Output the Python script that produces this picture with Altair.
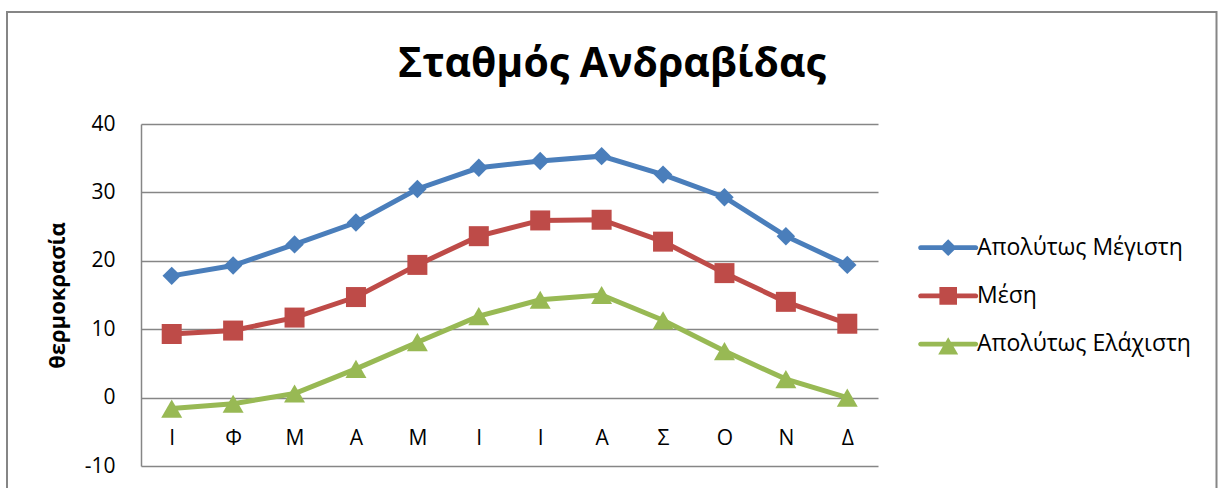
import json

import altair as alt
import pandas as pd

# Monthly temperatures at Andravida station (°C)
months = ["Ι", "Φ", "Μ", "Α", "Μ", "Ι", "Ι", "Α", "Σ", "Ο", "Ν", "Δ"]
series_names = ["Απολύτως Μέγιστη", "Μέση", "Απολύτως Ελάχιστη"]
abs_max = [17.8, 19.3, 22.4, 25.6, 30.5, 33.6, 34.6, 35.3, 32.6, 29.3, 23.6, 19.4]
mean_t = [9.3, 9.8, 11.7, 14.7, 19.4, 23.6, 25.9, 26.0, 22.8, 18.2, 14.0, 10.8]
abs_min = [-1.6, -0.9, 0.6, 4.2, 8.1, 11.9, 14.3, 15.0, 11.3, 6.8, 2.7, 0.0]
y_ticks = [-10, 0, 10, 20, 30, 40]

colors = ["#4A7EBB", "#BE4B48", "#98B954"]
markers = ["diamond", "square", "triangle-up"]
marker_sizes = [340, 400, 440]

# legend symbols: a rounded line segment with the series marker on it
bar = "M-3.45,-0.3H3.45A0.3,0.3 0 0 1 3.45,0.3H-3.45A0.3,0.3 0 0 1 -3.45,-0.3Z"
legend_paths = [
    bar + "M-1.05,0L0,-1.05L1.05,0L0,1.05Z",
    bar + "M-1.1,-1.1H1.1V1.1H-1.1Z",
    bar + "M-1.25,1.3L0,-0.85L1.25,1.3Z",
]

rows = []
for name, vals in zip(series_names, [abs_max, mean_t, abs_min]):
    for i, v in enumerate(vals):
        rows.append({"idx": i, "month": months[i], "series": name, "value": v})
df = pd.DataFrame(rows)

FONT = "Open Sans"
GRID = "#868686"

x_enc = alt.X(
    "idx:O",
    scale=alt.Scale(type="point", padding=0.5),
    axis=alt.Axis(
        title=None,
        labelExpr=json.dumps(months, ensure_ascii=False) + "[datum.value]",
        labelAngle=0,
        labelFont=FONT,
        labelFontSize=21,
        labelColor="black",
        labelPadding=30,
        domain=False,
        ticks=False,
        tickSize=0,
        grid=False,
        offset=-68.4,
    ),
)
y_enc = alt.Y(
    "value:Q",
    scale=alt.Scale(domain=[-10, 40], nice=False, zero=False),
    axis=alt.Axis(
        values=y_ticks,
        labelExpr="datum.value < 0 ? '-' + abs(datum.value) : '' + datum.value",
        title="θερμοκρασία",
        titleFont=FONT,
        titleFontSize=22,
        titleFontWeight="bold",
        titleColor="black",
        titleAngle=270,
        titleAlign="center",
        titleBaseline="middle",
        titleX=-84,
        titleY=171,
        labelFont=FONT,
        labelFontSize=21,
        labelColor="black",
        labelPadding=26,
        ticks=False,
        tickSize=0,
        grid=True,
        gridColor=GRID,
        gridWidth=1.5,
        domainColor=GRID,
        domainWidth=1.5,
    ),
)

base = alt.Chart(df)

# one line + marker layer per series
series_layers = []
for name, shape, size, col in zip(series_names, markers, marker_sizes, colors):
    sub = base.transform_filter(alt.datum.series == name)
    series_layers.append(
        sub.mark_line(strokeWidth=5, color=col).encode(x=x_enc, y=y_enc)
    )
    series_layers.append(
        sub.mark_point(shape=shape, size=size, filled=True, opacity=1, color=col, strokeWidth=0)
        .encode(x=x_enc, y=y_enc)
    )

legend_def = alt.Legend(
    title=None,
    orient="none",
    legendX=795.7,
    legendY=112.2,
    padding=0,
    symbolSize=256,
    symbolStrokeWidth=0,
    symbolOpacity=1,
    labelFont=FONT,
    labelFontSize=23,
    labelColor="black",
    labelOffset=17.3,
    labelLimit=400,
    rowPadding=24.2,
)

# legend carrier: keeps no rows, only the colour/shape scales for the legend
legend_layer = (
    base.transform_filter("datum.idx < 0")
    .mark_point(filled=True)
    .encode(
        x=x_enc,
        y=y_enc,
        shape=alt.Shape(
            "series:N",
            scale=alt.Scale(domain=series_names, range=legend_paths),
            legend=legend_def,
        ),
        color=alt.Color(
            "series:N",
            scale=alt.Scale(domain=series_names, range=colors),
            legend=legend_def,
        ),
    )
)

# outer chart frame
frame = (
    alt.Chart(alt.Data(values=[{"frame": 1}]))
    .mark_rect(filled=False, stroke=GRID, strokeWidth=2)
    .encode(
        x=alt.value(-134),
        x2=alt.value(1075.5),
        y=alt.value(-112),
        y2=alt.value(400),
    )
)

chart = (
    alt.layer(frame, *series_layers, legend_layer)
    .properties(
        width=737,
        height=342,
        padding={"left": 141, "top": 124, "right": 340, "bottom": 22},
        autosize=alt.AutoSizeParams(type="none"),
        background="white",
        title=alt.TitleParams(
            "Σταθμός Ανδραβίδας",
            font=FONT,
            fontSize=41,
            fontWeight="bold",
            color="black",
            anchor="middle",
            frame="group",
            dx=102.5,
            offset=-107,
            baseline="alphabetic",
        ),
    )
    .configure_view(stroke=None)
)

chart.save("out.html", embed_options={"renderer": "svg", "actions": False})
